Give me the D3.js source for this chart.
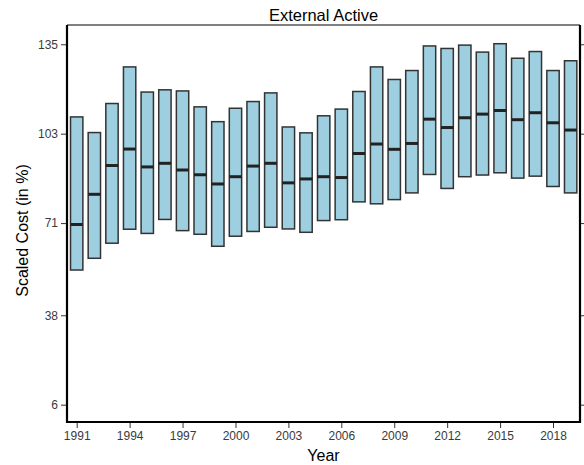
<!DOCTYPE html>
<html>
<head>
<meta charset="utf-8">
<script src="https://cdn.jsdelivr.net/npm/d3@7"></script>
<style>
  body { margin: 0; background: #fff; }
  text { font-family: "Liberation Sans", Arial, sans-serif; }
</style>
</head>
<body>
<svg id="chart" width="584" height="465"></svg>
<script>
// values (scaled cost, %)
const years = d3.range(1991, 2020);
const upper = [109.0, 103.4, 113.8, 126.9, 117.9, 118.7, 118.3, 112.6, 107.3, 112.1,
  114.5, 117.6, 105.4, 103.3, 109.4, 111.8, 118.1, 126.9, 122.4, 125.6,
  134.4, 133.5, 134.7, 132.2, 135.2, 130.0, 132.4, 125.6, 129.1];
const median = [70.5, 81.3, 91.6, 97.5, 91.1, 92.4, 90.0, 88.3, 85.0, 87.6,
  91.4, 92.4, 85.4, 86.8, 87.6, 87.3, 95.9, 99.3, 97.4, 99.5,
  108.2, 105.2, 108.7, 110.0, 111.3, 108.0, 110.5, 106.9, 104.3];
const lower = [54.2, 58.4, 63.8, 68.8, 67.3, 72.3, 68.3, 67.0, 62.7, 66.3,
  68.0, 69.5, 68.9, 67.7, 71.9, 72.2, 78.6, 77.9, 79.4, 81.8,
  88.4, 83.4, 87.6, 88.2, 89.0, 87.1, 87.8, 84.1, 81.8];
const yTicks = [6, 38, 71, 103, 135];
const xTicks = d3.range(1991, 2020, 3);

const data = years.map((yr, i) => ({ year: yr, hi: upper[i], mid: median[i], lo: lower[i] }));

const margin = { top: 25, right: 4, bottom: 43, left: 67 };
const width = 584 - margin.left - margin.right;   // 513
const height = 465 - margin.top - margin.bottom;  // 397

const svg = d3.select("#chart");
const g = svg.append("g").attr("transform", `translate(${margin.left},${margin.top})`);

const x = d3.scaleLinear().domain([1990.45, 2019.53]).range([0, width]);
const y = d3.scaleLinear().domain([-0.2, 141.9]).range([height, 0]);
const barW = x(1991.7) - x(1991);

// boxes
const boxes = g.selectAll(".box").data(data).join("g").attr("class", "box");
boxes.append("rect")
  .attr("x", (d) => x(d.year) - barW / 2)
  .attr("y", (d) => y(d.hi))
  .attr("width", barW)
  .attr("height", (d) => y(d.lo) - y(d.hi))
  .attr("fill", "#9ecfe0")
  .attr("stroke", "#333")
  .attr("stroke-width", 1.5);
boxes.append("line")
  .attr("x1", (d) => x(d.year) - barW / 2)
  .attr("x2", (d) => x(d.year) + barW / 2)
  .attr("y1", (d) => y(d.mid))
  .attr("y2", (d) => y(d.mid))
  .attr("stroke", "#222")
  .attr("stroke-width", 3);

// axes
const styleAxis = (sel) => {
  sel.select(".domain").remove();
  sel.selectAll(".tick line").attr("stroke", "#333").attr("stroke-width", 1);
  sel.selectAll(".tick text").attr("fill", "#3a3a3a").style("font-size", "12px");
};

g.append("g")
  .call(d3.axisLeft(y).tickValues(yTicks).tickFormat(d3.format("d")).tickSize(6).tickPadding(3))
  .call(styleAxis);

g.append("g")
  .attr("transform", `translate(${width},0)`)
  .call(d3.axisRight(y).tickValues(yTicks).tickFormat("").tickSize(4))
  .call(styleAxis);

g.append("g")
  .attr("transform", `translate(0,${height})`)
  .call(d3.axisBottom(x).tickValues(xTicks).tickFormat(d3.format("d")).tickSize(6).tickPadding(3))
  .call(styleAxis);

// panel border: thin top, thick sides and bottom
g.append("line").attr("x1", 0).attr("x2", width).attr("y1", 0).attr("y2", 0)
  .attr("stroke", "#000").attr("stroke-width", 1);
g.append("path")
  .attr("d", `M0,0V${height}H${width}V0`)
  .attr("fill", "none").attr("stroke", "#000").attr("stroke-width", 2.2);

// titles
svg.append("text")
  .attr("x", margin.left + width / 2).attr("y", 21)
  .attr("text-anchor", "middle").style("font-size", "16.5px").attr("fill", "#000")
  .text("External Active");

svg.append("text")
  .attr("x", margin.left + width / 2).attr("y", 461)
  .attr("text-anchor", "middle").style("font-size", "16px").attr("fill", "#000")
  .text("Year");

svg.append("text")
  .attr("transform", `translate(28,${margin.top + height / 2 + 7}) rotate(-90)`)
  .attr("text-anchor", "middle").style("font-size", "16px").attr("fill", "#000")
  .text("Scaled Cost (in %)");
</script>
</body>
</html>
